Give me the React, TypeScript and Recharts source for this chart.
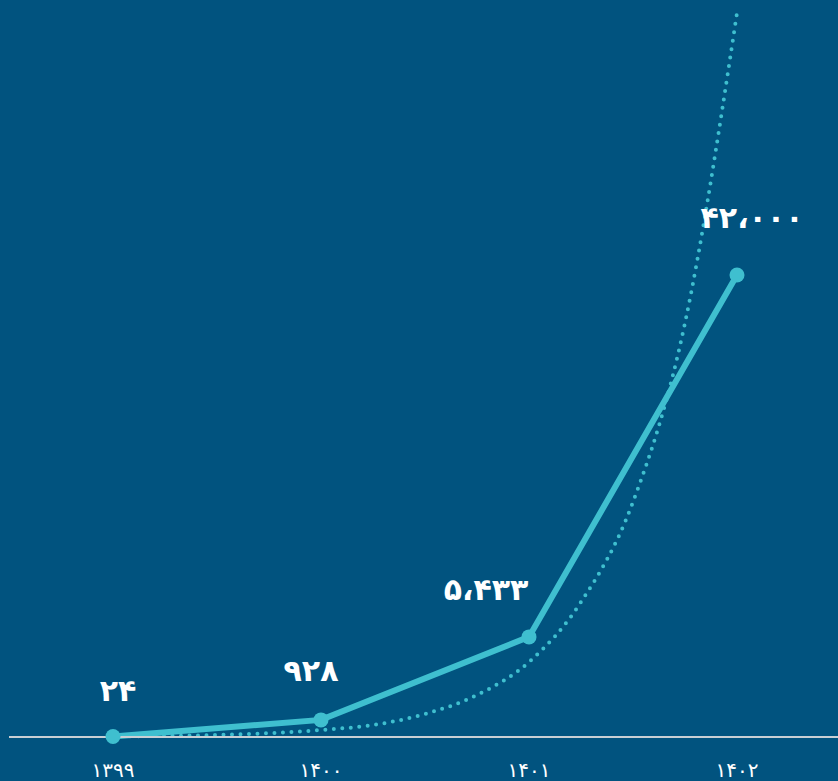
import { LabelList, Line, LineChart, XAxis, YAxis } from 'recharts';

// years on the x axis and their Persian tick text
const years = [1399, 1400, 1401, 1402];
const yearLabels = ['۱۳۹۹', '۱۴۰۰', '۱۴۰۱', '۱۴۰۲'];

// values as drawn on the chart, and the text written above each point
const drawnValues = [24, 928, 5433, 25075];
const pointLabels = ['۲۴', '۹۲۸', '۵،۴۳۳', '۴۲،۰۰۰'];

// dotted trend curve, every quarter year
const trendYears = [1399, 1399.5, 1400, 1400.25, 1400.5, 1400.75, 1401, 1401.25, 1401.5, 1401.75, 1402];
const trendValues = [38, 109, 380, 651, 1248, 2280, 4070, 7327, 12754, 22470, 39300];

const BG = '#01537f';
const TEAL = '#3fbfcf';
const LABEL_FONT = '"DejaVu Sans", sans-serif';

// nudges for the value labels, relative to each point
const LABEL_SHIFT = [
  { dx: 5, dy: -46 },
  { dx: -10, dy: -49 },
  { dx: -43, dy: -47 },
  { dx: 15, dy: -57 },
];

const mainData = years.map((year, i) => ({ year, value: drawnValues[i], label: pointLabels[i] }));
const trendData = trendYears.map((year, i) => ({ year, value: trendValues[i] }));

function PointLabel(props: any) {
  const { x, y, index, value } = props;
  const shift = LABEL_SHIFT[index] ?? { dx: 0, dy: -40 };
  return (
    <text
      x={x + shift.dx}
      y={y + shift.dy}
      textAnchor="middle"
      dominantBaseline="central"
      fill="#ffffff"
      fontFamily={LABEL_FONT}
      fontWeight={700}
      fontSize={30}
    >
      {value}
    </text>
  );
}

export default function App() {
  return (
    <>
      <style>{'body{margin:0}'}</style>
      <div style={{ width: 838, height: 781, background: BG, overflow: 'hidden' }}>
        <LineChart width={842} height={781} margin={{ top: 0, right: 1, left: 9, bottom: 0 }}>
          <XAxis
            dataKey="year"
            type="number"
            domain={[1398.5, 1402.5]}
            ticks={years}
            tickFormatter={(v) => yearLabels[years.indexOf(v)] ?? ''}
            allowDuplicatedCategory={false}
            height={44}
            tickLine={false}
            tickMargin={20}
            axisLine={{ stroke: '#c9cfd4', strokeWidth: 2 }}
            tick={{ fill: '#ffffff', fontSize: 20, fontFamily: LABEL_FONT }}
          />
          <YAxis hide domain={[0, 40000]} />
          <Line
            data={trendData}
            dataKey="value"
            type="monotone"
            stroke={TEAL}
            strokeWidth={4}
            strokeDasharray="0 8.5"
            strokeLinecap="round"
            dot={false}
            activeDot={false}
            isAnimationActive={false}
          />
          <Line
            data={mainData}
            dataKey="value"
            type="linear"
            stroke={TEAL}
            strokeWidth={6}
            dot={{ r: 7.5, fill: TEAL, stroke: 'none' }}
            activeDot={false}
            isAnimationActive={false}
          >
            <LabelList dataKey="label" content={<PointLabel />} />
          </Line>
        </LineChart>
      </div>
    </>
  );
}
